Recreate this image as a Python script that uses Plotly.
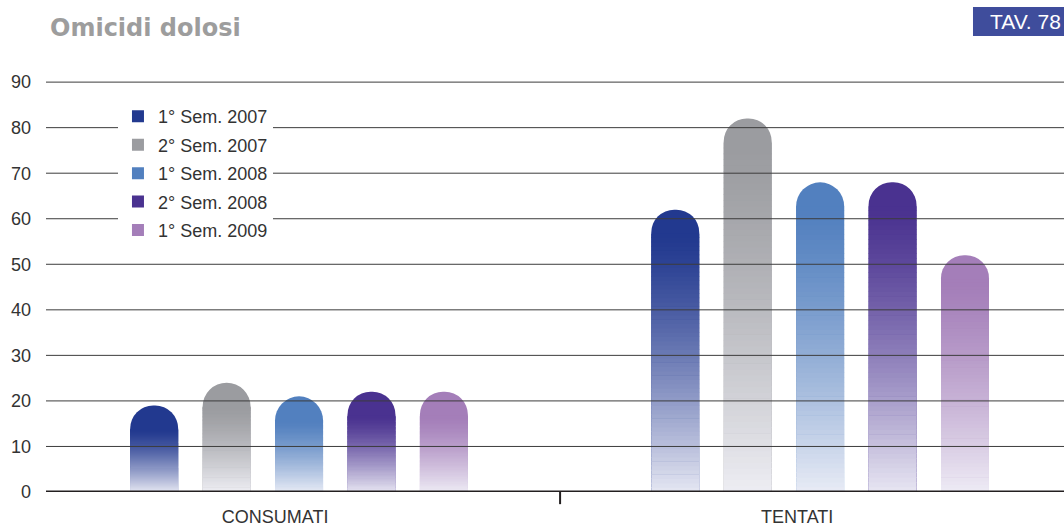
import plotly.graph_objects as go

categories = ["CONSUMATI", "TENTATI"]
series_names = ["1° Sem. 2007", "2° Sem. 2007", "1° Sem. 2008", "2° Sem. 2008", "1° Sem. 2009"]
values_2007_1 = [19, 62]
values_2007_2 = [24, 82]
values_2008_1 = [21, 68]
values_2008_2 = [22, 68]
values_2009_1 = [22, 52]
series_values = [values_2007_1, values_2007_2, values_2008_1, values_2008_2, values_2009_1]
series_colors = ["#22398f", "#9b9ca0", "#5280bf", "#4a3290", "#a47eb9"]
y_ticks = [0, 10, 20, 30, 40, 50, 60, 70, 80, 90]

W, H = 1064, 528
M_L, M_R, M_T, M_B = 46, 0, 73, 36
Y_MAX = 92
N_STEPS = 60
SLOT = 0.139
BAR_W = 0.0921
RADIUS = 24
FONT = "Liberation Sans"
LIGHT = (244, 244, 250)

px_per_unit = (H - M_T - M_B) / Y_MAX
dome = RADIUS / px_per_unit
eps = 0.6 / px_per_unit


def hex_to_rgb(h):
    h = h.lstrip("#")
    return tuple(int(h[i:i + 2], 16) for i in (0, 2, 4))


def mix(c, t):
    r, g, b = hex_to_rgb(c)
    w = 0.93 * t ** 1.3
    return "rgb(%d,%d,%d)" % (r + (LIGHT[0] - r) * w, g + (LIGHT[1] - g) * w, b + (LIGHT[2] - b) * w)


fig = go.Figure()
for j, (name, vals, col) in enumerate(zip(series_names, series_values, series_colors)):
    xs = [ci + (j - 2) * SLOT for ci in range(len(categories))]
    # legend-only entry (square symbol)
    fig.add_trace(go.Bar(x=[None], y=[None], name=name, legendgroup=name,
                         marker=dict(color=col, line=dict(width=0), cornerradius=0)))
    # full bar with rounded top
    fig.add_trace(go.Bar(
        x=xs, y=vals, width=BAR_W, legendgroup=name, showlegend=False,
        marker=dict(color=col, line=dict(width=0), cornerradius=RADIUS),
        hoverinfo="skip",
    ))
    # gradient bands from the bottom up to the start of the dome
    for k in range(N_STEPS):
        lo = k / N_STEPS
        hi = (k + 1) / N_STEPS
        t = 1 - (k + 0.5) / N_STEPS
        bases = [(v - dome) * lo for v in vals]
        lens = [(v - dome) * (hi - lo) + (eps if k < N_STEPS - 1 else 0) for v in vals]
        fig.add_trace(go.Bar(
            x=xs, y=lens, base=bases, width=BAR_W, legendgroup=name, showlegend=False,
            marker=dict(color=mix(col, t), line=dict(width=0), cornerradius=0),
            hoverinfo="skip",
        ))

shapes = []
for t in y_ticks[1:]:
    shapes.append(dict(type="line", xref="paper", yref="y", x0=0, x1=1, y0=t, y1=t,
                       line=dict(color="#3c3c3c", width=1), layer="above"))
shapes.append(dict(type="line", xref="paper", yref="y", x0=0, x1=1, y0=0, y1=0,
                   line=dict(color="#231f20", width=3), layer="above"))
shapes.append(dict(type="line", xref="paper", yref="paper", x0=0.505, x1=0.505, y0=0, y1=-0.029,
                   line=dict(color="#231f20", width=2), layer="above"))
shapes.append(dict(type="rect", xref="paper", yref="paper", x0=0.9106, x1=1.0, y0=1.0883, y1=1.1575,
                   fillcolor="#3f4d9c", line=dict(width=0)))

fig.update_layout(
    width=W, height=H,
    margin=dict(l=M_L, r=M_R, t=M_T, b=M_B),
    paper_bgcolor="white", plot_bgcolor="white",
    barmode="overlay",
    showlegend=True,
    legend=dict(x=0.0707, y=0.94, xanchor="left", yanchor="top", bgcolor="white",
                font=dict(family=FONT, size=18, color="#333333"), tracegroupgap=2),
    font=dict(family=FONT, size=18, color="#333333"),
    xaxis=dict(range=[-0.4856, 1.468], tickvals=[-0.046, 0.956], ticktext=categories,
               showgrid=False, zeroline=False, showline=False, ticks="",
               ticklabelstandoff=12, tickfont=dict(family=FONT, size=18, color="#333333")),
    yaxis=dict(range=[0, Y_MAX], tickvals=y_ticks, showgrid=False, zeroline=False, showline=False,
               ticks="", ticklabelstandoff=14, tickfont=dict(family=FONT, size=18, color="#333333")),
    shapes=shapes,
    annotations=[
        dict(text="<b>Omicidi dolosi</b>", xref="paper", yref="paper", x=0.002, y=1.1074,
             xanchor="left", yanchor="middle", showarrow=False,
             font=dict(family="DejaVu Sans", size=24, color="#9d9d9d")),
        dict(text="TAV. 78", xref="paper", yref="paper", x=0.925, y=1.1229,
             xanchor="left", yanchor="middle", showarrow=False,
             font=dict(family=FONT, size=21, color="white")),
    ],
)

fig.write_html("out.html", config={"displayModeBar": False},
               post_script="document.body.style.margin='0px';document.body.style.padding='0px';")
